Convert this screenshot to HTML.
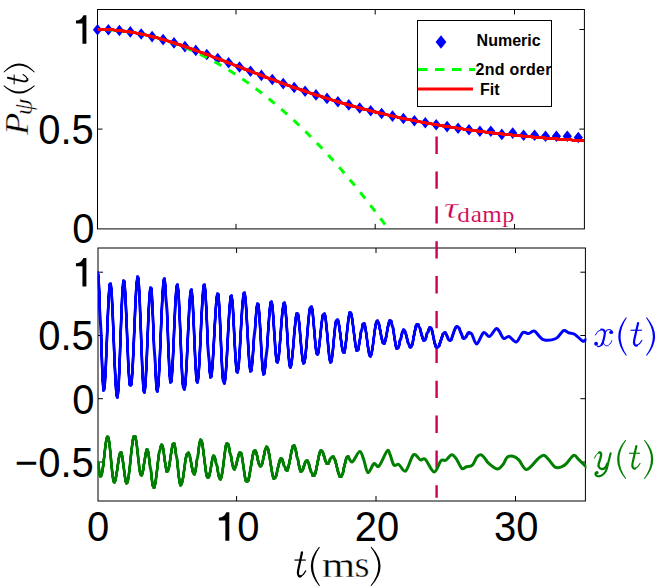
<!DOCTYPE html>
<html><head><meta charset="utf-8"><title>figure</title>
<style>
html,body{margin:0;padding:0;background:#fff;}
svg{display:block;}
.tk{font-family:"Liberation Sans",sans-serif;font-size:40px;fill:#000;}
.lg{font-family:"Liberation Sans",sans-serif;font-size:16px;font-weight:bold;fill:#000;}
.mi{font-family:"Liberation Serif",serif;font-style:italic;}
.mr{font-family:"Liberation Serif",serif;font-style:normal;}
</style></head>
<body>
<svg width="664" height="588" viewBox="0 0 664 588">
<rect width="664" height="588" fill="#fff"/>
<!-- top panel data -->
<defs>
<clipPath id="c1"><rect x="89.5" y="9.5" width="494.9" height="219.4"/></clipPath>
<clipPath id="c2"><rect x="97.5" y="248.0" width="488.9" height="253.0"/></clipPath>
</defs>
<!-- axes boxes -->
<rect x="97.5" y="9.5" width="486.9" height="219.4" fill="none" stroke="#000" stroke-width="1"/>
<rect x="98.0" y="248.0" width="487.4" height="253.0" fill="none" stroke="#000" stroke-width="1"/>
<path d="M236.0 228.9L236.0 223.9M236.0 9.5L236.0 14.5M236.6 501.0L236.6 496.0M236.6 248.0L236.6 253.0M375.2 228.9L375.2 223.9M375.2 9.5L375.2 14.5M376.0 501.0L376.0 496.0M376.0 248.0L376.0 253.0M514.5 228.9L514.5 223.9M514.5 9.5L514.5 14.5M515.5 501.0L515.5 496.0M515.5 248.0L515.5 253.0M97.5 129.1L102.5 129.1M584.4 129.1L579.4 129.1M97.5 29.5L102.5 29.5M584.4 29.5L579.4 29.5M98.0 462.0L103.0 462.0M585.4 462.0L580.4 462.0M98.0 398.7L103.0 398.7M585.4 398.7L580.4 398.7M98.0 335.5L103.0 335.5M585.4 335.5L580.4 335.5M98.0 272.2L103.0 272.2M585.4 272.2L580.4 272.2" stroke="#000" stroke-width="1" fill="none"/>
<g clip-path="url(#c1)">
<path d="M97.5 24.0 l4.6 5.8 l-4.6 5.8 l-4.6 -5.8 zM108.4 23.9 l4.6 5.8 l-4.6 5.8 l-4.6 -5.8 zM119.4 24.7 l4.6 5.8 l-4.6 5.8 l-4.6 -5.8 zM130.3 26.1 l4.6 5.8 l-4.6 5.8 l-4.6 -5.8 zM141.2 28.2 l4.6 5.8 l-4.6 5.8 l-4.6 -5.8 zM152.1 30.8 l4.6 5.8 l-4.6 5.8 l-4.6 -5.8 zM163.1 33.8 l4.6 5.8 l-4.6 5.8 l-4.6 -5.8 zM174.0 37.1 l4.6 5.8 l-4.6 5.8 l-4.6 -5.8 zM184.9 40.8 l4.6 5.8 l-4.6 5.8 l-4.6 -5.8 zM195.8 44.6 l4.6 5.8 l-4.6 5.8 l-4.6 -5.8 zM206.8 48.7 l4.6 5.8 l-4.6 5.8 l-4.6 -5.8 zM217.7 52.8 l4.6 5.8 l-4.6 5.8 l-4.6 -5.8 zM228.6 57.0 l4.6 5.8 l-4.6 5.8 l-4.6 -5.8 zM239.5 61.2 l4.6 5.8 l-4.6 5.8 l-4.6 -5.8 zM250.5 65.4 l4.6 5.8 l-4.6 5.8 l-4.6 -5.8 zM261.4 69.6 l4.6 5.8 l-4.6 5.8 l-4.6 -5.8 zM272.3 73.7 l4.6 5.8 l-4.6 5.8 l-4.6 -5.8 zM283.2 77.8 l4.6 5.8 l-4.6 5.8 l-4.6 -5.8 zM294.2 81.7 l4.6 5.8 l-4.6 5.8 l-4.6 -5.8 zM305.1 85.5 l4.6 5.8 l-4.6 5.8 l-4.6 -5.8 zM316.0 89.1 l4.6 5.8 l-4.6 5.8 l-4.6 -5.8 zM327.0 92.6 l4.6 5.8 l-4.6 5.8 l-4.6 -5.8 zM337.9 96.0 l4.6 5.8 l-4.6 5.8 l-4.6 -5.8 zM348.8 99.1 l4.6 5.8 l-4.6 5.8 l-4.6 -5.8 zM359.7 102.2 l4.6 5.8 l-4.6 5.8 l-4.6 -5.8 zM370.7 105.0 l4.6 5.8 l-4.6 5.8 l-4.6 -5.8 zM381.6 107.7 l4.6 5.8 l-4.6 5.8 l-4.6 -5.8 zM392.5 110.3 l4.6 5.8 l-4.6 5.8 l-4.6 -5.8 zM403.4 112.7 l4.6 5.8 l-4.6 5.8 l-4.6 -5.8 zM414.4 114.9 l4.6 5.8 l-4.6 5.8 l-4.6 -5.8 zM425.3 117.0 l4.6 5.8 l-4.6 5.8 l-4.6 -5.8 zM436.2 118.9 l4.6 5.8 l-4.6 5.8 l-4.6 -5.8 zM447.1 120.8 l4.6 5.8 l-4.6 5.8 l-4.6 -5.8 zM458.1 122.5 l4.6 5.8 l-4.6 5.8 l-4.6 -5.8 zM469.0 124.0 l4.6 5.8 l-4.6 5.8 l-4.6 -5.8 zM479.9 125.5 l4.6 5.8 l-4.6 5.8 l-4.6 -5.8 zM490.8 125.5 l4.6 5.8 l-4.6 5.8 l-4.6 -5.8 zM501.8 128.6 l4.6 5.8 l-4.6 5.8 l-4.6 -5.8 zM512.7 127.3 l4.6 5.8 l-4.6 5.8 l-4.6 -5.8 zM523.6 129.5 l4.6 5.8 l-4.6 5.8 l-4.6 -5.8 zM534.6 129.5 l4.6 5.8 l-4.6 5.8 l-4.6 -5.8 zM545.5 130.4 l4.6 5.8 l-4.6 5.8 l-4.6 -5.8 zM556.4 130.4 l4.6 5.8 l-4.6 5.8 l-4.6 -5.8 zM567.3 130.4 l4.6 5.8 l-4.6 5.8 l-4.6 -5.8 zM578.3 131.7 l4.6 5.8 l-4.6 5.8 l-4.6 -5.8 z" fill="#0000ff"/>
<path d="M97.5 29.5L98.2 29.5L99.0 29.5L99.7 29.5L100.4 29.5L101.1 29.5L101.9 29.5L102.6 29.5L103.3 29.5L104.1 29.6L104.8 29.6L105.5 29.6L106.2 29.6L107.0 29.7L107.7 29.7L108.4 29.7L109.2 29.8L109.9 29.8L110.6 29.9L111.3 29.9L112.1 30.0L112.8 30.0L113.5 30.1L114.3 30.1L115.0 30.2L115.7 30.2L116.4 30.3L117.2 30.4L117.9 30.4L118.6 30.5L119.4 30.6L120.1 30.7L120.8 30.7L121.5 30.8L122.3 30.9L123.0 31.0L123.7 31.1L124.5 31.2L125.2 31.3L125.9 31.4L126.6 31.5L127.4 31.6L128.1 31.7L128.8 31.8L129.6 31.9L130.3 32.0L131.0 32.1L131.7 32.2L132.5 32.3L133.2 32.5L133.9 32.6L134.7 32.7L135.4 32.8L136.1 33.0L136.8 33.1L137.6 33.2L138.3 33.4L139.0 33.5L139.8 33.7L140.5 33.8L141.2 34.0L141.9 34.1L142.7 34.3L143.4 34.4L144.1 34.6L144.9 34.7L145.6 34.9L146.3 35.1L147.0 35.2L147.8 35.4L148.5 35.6L149.2 35.8L150.0 35.9L150.7 36.1L151.4 36.3L152.1 36.5L152.9 36.7L153.6 36.9L154.3 37.1L155.1 37.3L155.8 37.5L156.5 37.7L157.2 37.9L158.0 38.1L158.7 38.3L159.4 38.5L160.2 38.7L160.9 38.9L161.6 39.1L162.3 39.4L163.1 39.6L163.8 39.8L164.5 40.0L165.3 40.3L166.0 40.5L166.7 40.8L167.4 41.0L168.2 41.2L168.9 41.5L169.6 41.7L170.4 42.0L171.1 42.2L171.8 42.5L172.5 42.7L173.3 43.0L174.0 43.3L174.7 43.5L175.5 43.8L176.2 44.1L176.9 44.3L177.6 44.6L178.4 44.9L179.1 45.2L179.8 45.4L180.6 45.7L181.3 46.0L182.0 46.3L182.7 46.6L183.5 46.9L184.2 47.2L184.9 47.5L185.6 47.8L186.4 48.1L187.1 48.4L187.8 48.7L188.6 49.0L189.3 49.3L190.0 49.6L190.7 50.0L191.5 50.3L192.2 50.6L192.9 50.9L193.7 51.3L194.4 51.6L195.1 51.9L195.8 52.3L196.6 52.6L197.3 53.0L198.0 53.3L198.8 53.6L199.5 54.0L200.2 54.3L200.9 54.7L201.7 55.1L202.4 55.4L203.1 55.8L203.9 56.1L204.6 56.5L205.3 56.9L206.0 57.2L206.8 57.6L207.5 58.0L208.2 58.4L209.0 58.8L209.7 59.1L210.4 59.5L211.1 59.9L211.9 60.3L212.6 60.7L213.3 61.1L214.1 61.5L214.8 61.9L215.5 62.3L216.2 62.7L217.0 63.1L217.7 63.5L218.4 64.0L219.2 64.4L219.9 64.8L220.6 65.2L221.3 65.6L222.1 66.1L222.8 66.5L223.5 66.9L224.3 67.4L225.0 67.8L225.7 68.2L226.4 68.7L227.2 69.1L227.9 69.6L228.6 70.0L229.4 70.5L230.1 70.9L230.8 71.4L231.5 71.8L232.3 72.3L233.0 72.8L233.7 73.2L234.5 73.7L235.2 74.2L235.9 74.7L236.6 75.1L237.4 75.6L238.1 76.1L238.8 76.6L239.6 77.1L240.3 77.6L241.0 78.0L241.7 78.5L242.5 79.0L243.2 79.5L243.9 80.0L244.7 80.5L245.4 81.1L246.1 81.6L246.8 82.1L247.6 82.6L248.3 83.1L249.0 83.6L249.8 84.1L250.5 84.7L251.2 85.2L251.9 85.7L252.7 86.3L253.4 86.8L254.1 87.3L254.9 87.9L255.6 88.4L256.3 89.0L257.0 89.5L257.8 90.1L258.5 90.6L259.2 91.2L260.0 91.7L260.7 92.3L261.4 92.8L262.1 93.4L262.9 94.0L263.6 94.5L264.3 95.1L265.1 95.7L265.8 96.3L266.5 96.8L267.2 97.4L268.0 98.0L268.7 98.6L269.4 99.2L270.2 99.8L270.9 100.4L271.6 101.0L272.3 101.6L273.1 102.2L273.8 102.8L274.5 103.4L275.3 104.0L276.0 104.6L276.7 105.2L277.4 105.8L278.2 106.5L278.9 107.1L279.6 107.7L280.4 108.3L281.1 109.0L281.8 109.6L282.5 110.2L283.3 110.9L284.0 111.5L284.7 112.2L285.5 112.8L286.2 113.4L286.9 114.1L287.6 114.8L288.4 115.4L289.1 116.1L289.8 116.7L290.6 117.4L291.3 118.1L292.0 118.7L292.7 119.4L293.5 120.1L294.2 120.7L294.9 121.4L295.7 122.1L296.4 122.8L297.1 123.5L297.8 124.1L298.6 124.8L299.3 125.5L300.0 126.2L300.8 126.9L301.5 127.6L302.2 128.3L302.9 129.0L303.7 129.7L304.4 130.4L305.1 131.2L305.9 131.9L306.6 132.6L307.3 133.3L308.0 134.0L308.8 134.8L309.5 135.5L310.2 136.2L311.0 136.9L311.7 137.7L312.4 138.4L313.1 139.2L313.9 139.9L314.6 140.6L315.3 141.4L316.1 142.1L316.8 142.9L317.5 143.7L318.2 144.4L319.0 145.2L319.7 145.9L320.4 146.7L321.2 147.5L321.9 148.2L322.6 149.0L323.3 149.8L324.1 150.6L324.8 151.3L325.5 152.1L326.3 152.9L327.0 153.7L327.7 154.5L328.4 155.3L329.2 156.1L329.9 156.9L330.6 157.7L331.4 158.5L332.1 159.3L332.8 160.1L333.5 160.9L334.3 161.7L335.0 162.5L335.7 163.3L336.5 164.2L337.2 165.0L337.9 165.8L338.6 166.6L339.4 167.5L340.1 168.3L340.8 169.1L341.6 170.0L342.3 170.8L343.0 171.7L343.7 172.5L344.5 173.4L345.2 174.2L345.9 175.1L346.7 175.9L347.4 176.8L348.1 177.6L348.8 178.5L349.6 179.4L350.3 180.2L351.0 181.1L351.8 182.0L352.5 182.8L353.2 183.7L353.9 184.6L354.7 185.5L355.4 186.4L356.1 187.3L356.9 188.1L357.6 189.0L358.3 189.9L359.0 190.8L359.8 191.7L360.5 192.6L361.2 193.5L361.9 194.4L362.7 195.4L363.4 196.3L364.1 197.2L364.9 198.1L365.6 199.0L366.3 199.9L367.0 200.9L367.8 201.8L368.5 202.7L369.2 203.7L370.0 204.6L370.7 205.5L371.4 206.5L372.1 207.4L372.9 208.4L373.6 209.3L374.3 210.3L375.1 211.2L375.8 212.2L376.5 213.1L377.2 214.1L378.0 215.1L378.7 216.0L379.4 217.0L380.2 218.0L380.9 218.9L381.6 219.9L382.3 220.9L383.1 221.9L383.8 222.8L384.5 223.8L385.3 224.8L386.0 225.8L386.7 226.8L387.4 227.8L388.2 228.8" fill="none" stroke="#00ff00" stroke-width="3" stroke-dasharray="7.9 8.52" stroke-dashoffset="8.54"/>
<path d="M97.5 29.5L98.5 29.5L99.5 29.5L100.5 29.5L101.5 29.5L102.5 29.5L103.5 29.5L104.5 29.5L105.5 29.5L106.5 29.5L107.5 29.5L108.5 29.5L109.5 29.5L110.5 29.5L111.5 29.5L112.5 29.5L113.5 29.5L114.5 30.5L115.5 30.5L116.5 30.5L117.5 30.5L118.5 30.5L119.5 30.5L120.5 30.5L121.5 30.5L122.5 30.5L123.5 30.5L123.5 31.5L124.5 31.5L125.5 31.5L126.5 31.5L127.5 31.5L128.5 31.5L129.5 31.5L130.5 31.5L130.5 32.5L131.5 32.5L132.5 32.5L133.5 32.5L134.5 32.5L135.5 32.5L136.5 33.5L137.5 33.5L138.5 33.5L139.5 33.5L140.5 33.5L141.5 34.5L142.5 34.5L143.5 34.5L144.5 34.5L145.5 34.5L146.5 35.5L147.5 35.5L148.5 35.5L149.5 35.5L150.5 36.5L151.5 36.5L152.5 36.5L153.5 36.5L153.5 37.5L154.5 37.5L155.5 37.5L156.5 37.5L157.5 37.5L158.5 38.5L159.5 38.5L160.5 38.5L161.5 39.5L162.5 39.5L163.5 39.5L164.5 39.5L164.5 40.5L165.5 40.5L166.5 40.5L167.5 40.5L168.5 41.5L169.5 41.5L170.5 41.5L171.5 42.5L172.5 42.5L173.5 42.5L174.5 42.5L174.5 43.5L175.5 43.5L176.5 43.5L177.5 44.5L178.5 44.5L179.5 44.5L180.5 44.5L180.5 45.5L181.5 45.5L182.5 45.5L183.5 45.5L183.5 46.5L184.5 46.5L185.5 46.5L186.5 47.5L187.5 47.5L188.5 47.5L189.5 48.5L190.5 48.5L191.5 48.5L192.5 49.5L193.5 49.5L194.5 49.5L194.5 50.5L195.5 50.5L196.5 50.5L197.5 51.5L198.5 51.5L199.5 51.5L200.5 52.5L201.5 52.5L202.5 52.5L203.5 53.5L204.5 53.5L205.5 53.5L205.5 54.5L206.5 54.5L207.5 54.5L208.5 54.5L208.5 55.5L209.5 55.5L210.5 55.5L211.5 56.5L212.5 56.5L213.5 57.5L214.5 57.5L215.5 57.5L216.5 58.5L217.5 58.5L218.5 58.5L219.5 59.5L220.5 59.5L221.5 59.5L221.5 60.5L222.5 60.5L223.5 60.5L224.5 61.5L225.5 61.5L226.5 61.5L226.5 62.5L227.5 62.5L228.5 62.5L229.5 63.5L230.5 63.5L231.5 63.5L232.5 64.5L233.5 64.5L234.5 65.5L235.5 65.5L236.5 65.5L237.5 66.5L238.5 66.5L239.5 66.5L240.5 67.5L241.5 67.5L242.5 68.5L243.5 68.5L244.5 68.5L244.5 69.5L245.5 69.5L246.5 69.5L247.5 69.5L247.5 70.5L248.5 70.5L249.5 70.5L250.5 71.5L251.5 71.5L252.5 72.5L253.5 72.5L254.5 72.5L255.5 73.5L256.5 73.5L257.5 73.5L258.5 74.5L259.5 74.5L260.5 74.5L260.5 75.5L261.5 75.5L262.5 75.5L263.5 76.5L264.5 76.5L265.5 76.5L265.5 77.5L266.5 77.5L267.5 77.5L268.5 78.5L269.5 78.5L270.5 78.5L271.5 79.5L272.5 79.5L273.5 79.5L274.5 80.5L275.5 80.5L276.5 80.5L276.5 81.5L277.5 81.5L278.5 81.5L279.5 82.5L280.5 82.5L281.5 82.5L281.5 83.5L282.5 83.5L283.5 83.5L284.5 84.5L285.5 84.5L286.5 84.5L287.5 85.5L288.5 85.5L289.5 85.5L290.5 86.5L291.5 86.5L292.5 86.5L292.5 87.5L293.5 87.5L294.5 87.5L295.5 87.5L295.5 88.5L296.5 88.5L297.5 88.5L298.5 88.5L299.5 89.5L300.5 89.5L301.5 89.5L301.5 90.5L302.5 90.5L303.5 90.5L304.5 90.5L304.5 91.5L305.5 91.5L306.5 91.5L307.5 92.5L308.5 92.5L309.5 92.5L310.5 93.5L311.5 93.5L312.5 93.5L313.5 93.5L313.5 94.5L314.5 94.5L315.5 94.5L316.5 95.5L317.5 95.5L318.5 95.5L319.5 95.5L320.5 96.5L321.5 96.5L322.5 96.5L322.5 97.5L323.5 97.5L324.5 97.5L325.5 97.5L326.5 98.5L327.5 98.5L328.5 98.5L329.5 99.5L330.5 99.5L331.5 99.5L332.5 100.5L333.5 100.5L334.5 100.5L335.5 100.5L336.5 101.5L337.5 101.5L338.5 101.5L338.5 102.5L339.5 102.5L340.5 102.5L341.5 102.5L342.5 103.5L343.5 103.5L344.5 103.5L345.5 103.5L345.5 104.5L346.5 104.5L347.5 104.5L348.5 104.5L349.5 105.5L350.5 105.5L351.5 105.5L352.5 105.5L352.5 106.5L353.5 106.5L354.5 106.5L355.5 106.5L356.5 107.5L357.5 107.5L358.5 107.5L359.5 107.5L360.5 108.5L361.5 108.5L362.5 108.5L363.5 108.5L363.5 109.5L364.5 109.5L365.5 109.5L366.5 109.5L367.5 109.5L368.5 110.5L369.5 110.5L370.5 110.5L371.5 111.5L372.5 111.5L373.5 111.5L374.5 111.5L375.5 111.5L375.5 112.5L376.5 112.5L377.5 112.5L378.5 112.5L379.5 112.5L379.5 113.5L380.5 113.5L381.5 113.5L382.5 113.5L383.5 113.5L384.5 114.5L385.5 114.5L386.5 114.5L387.5 114.5L388.5 115.5L389.5 115.5L390.5 115.5L391.5 115.5L392.5 116.5L393.5 116.5L394.5 116.5L395.5 116.5L396.5 116.5L397.5 117.5L398.5 117.5L399.5 117.5L400.5 117.5L401.5 118.5L402.5 118.5L403.5 118.5L404.5 118.5L405.5 118.5L406.5 119.5L407.5 119.5L408.5 119.5L409.5 119.5L410.5 119.5L411.5 120.5L412.5 120.5L413.5 120.5L414.5 120.5L415.5 120.5L416.5 121.5L417.5 121.5L418.5 121.5L419.5 121.5L420.5 121.5L421.5 122.5L422.5 122.5L423.5 122.5L424.5 122.5L425.5 122.5L426.5 123.5L427.5 123.5L428.5 123.5L429.5 123.5L430.5 123.5L431.5 123.5L432.5 124.5L433.5 124.5L434.5 124.5L435.5 124.5L436.5 124.5L437.5 124.5L438.5 125.5L439.5 125.5L440.5 125.5L441.5 125.5L442.5 125.5L443.5 125.5L443.5 126.5L444.5 126.5L445.5 126.5L446.5 126.5L447.5 126.5L448.5 126.5L449.5 126.5L450.5 127.5L451.5 127.5L452.5 127.5L453.5 127.5L454.5 127.5L455.5 127.5L456.5 127.5L457.5 128.5L458.5 128.5L459.5 128.5L460.5 128.5L461.5 128.5L462.5 128.5L463.5 129.5L464.5 129.5L465.5 129.5L466.5 129.5L467.5 129.5L468.5 129.5L469.5 129.5L470.5 130.5L471.5 130.5L472.5 130.5L473.5 130.5L474.5 130.5L475.5 130.5L476.5 130.5L477.5 130.5L477.5 131.5L478.5 131.5L479.5 131.5L480.5 131.5L481.5 131.5L482.5 131.5L483.5 131.5L484.5 131.5L485.5 132.5L486.5 132.5L487.5 132.5L488.5 132.5L489.5 132.5L490.5 132.5L491.5 132.5L492.5 132.5L493.5 132.5L493.5 133.5L494.5 133.5L495.5 133.5L496.5 133.5L497.5 133.5L498.5 133.5L499.5 133.5L500.5 133.5L501.5 133.5L502.5 133.5L502.5 134.5L503.5 134.5L504.5 134.5L505.5 134.5L506.5 134.5L507.5 134.5L508.5 134.5L509.5 134.5L510.5 134.5L511.5 134.5L512.5 135.5L513.5 135.5L514.5 135.5L515.5 135.5L516.5 135.5L517.5 135.5L518.5 135.5L519.5 135.5L520.5 135.5L521.5 135.5L522.5 136.5L523.5 136.5L524.5 136.5L525.5 136.5L526.5 136.5L527.5 136.5L528.5 136.5L529.5 136.5L530.5 136.5L531.5 136.5L532.5 136.5L532.5 137.5L533.5 137.5L534.5 137.5L535.5 137.5L536.5 137.5L537.5 137.5L538.5 137.5L539.5 137.5L540.5 137.5L541.5 137.5L542.5 137.5L543.5 137.5L544.5 137.5L544.5 138.5L545.5 138.5L546.5 138.5L547.5 138.5L548.5 138.5L549.5 138.5L550.5 138.5L551.5 138.5L552.5 138.5L553.5 138.5L554.5 138.5L555.5 138.5L556.5 138.5L557.5 138.5L557.5 139.5L558.5 139.5L559.5 139.5L560.5 139.5L561.5 139.5L562.5 139.5L563.5 139.5L564.5 139.5L565.5 139.5L566.5 139.5L567.5 139.5L568.5 139.5L569.5 139.5L570.5 139.5L571.5 139.5L572.5 140.5L573.5 140.5L574.5 140.5L575.5 140.5L576.5 140.5L577.5 140.5L578.5 140.5L579.5 140.5L580.5 140.5L581.5 140.5L582.5 140.5L583.5 140.5L584.5 140.5" fill="none" stroke="#ff0000" stroke-width="3.1" stroke-linejoin="round"/>
</g>
<!-- tau line -->
<path d="M436.6 136.6V153.9M436.6 171.5V188.8M436.6 206.3V223.6M436.6 241.2V258.5M436.6 276.1V293.4M436.6 310.9V328.2M436.6 345.8V363.1M436.6 380.7V398.0M436.6 415.6V432.9M436.6 450.4V467.7M436.6 485.3V497.7" stroke="#cc0055" stroke-width="2.4" fill="none"/>
<!-- bottom panel data -->
<g clip-path="url(#c2)">
<path d="M97.5 272.5L98.5 275.5L98.5 282.5L99.5 292.5L99.5 307.5L100.5 323.5L101.5 339.5L101.5 355.5L102.5 369.5L102.5 380.5L103.5 387.5L103.5 390.5L104.5 388.5L104.5 384.5L105.5 376.5L105.5 367.5L106.5 355.5L106.5 343.5L107.5 330.5L107.5 317.5L108.5 306.5L108.5 296.5L109.5 289.5L109.5 284.5L110.5 283.5L110.5 284.5L111.5 288.5L111.5 295.5L112.5 304.5L112.5 315.5L113.5 327.5L113.5 340.5L114.5 353.5L114.5 365.5L115.5 375.5L115.5 384.5L116.5 391.5L116.5 395.5L117.5 397.5L117.5 395.5L118.5 390.5L118.5 382.5L119.5 372.5L119.5 359.5L120.5 345.5L120.5 331.5L121.5 318.5L121.5 305.5L122.5 295.5L122.5 287.5L123.5 282.5L123.5 280.5L124.5 281.5L124.5 286.5L125.5 293.5L125.5 303.5L126.5 314.5L126.5 326.5L127.5 339.5L127.5 351.5L128.5 363.5L128.5 372.5L129.5 379.5L129.5 384.5L130.5 385.5L131.5 384.5L131.5 380.5L132.5 373.5L132.5 365.5L133.5 354.5L133.5 343.5L134.5 331.5L134.5 319.5L135.5 307.5L135.5 297.5L136.5 288.5L136.5 282.5L137.5 278.5L137.5 276.5L138.5 278.5L138.5 283.5L139.5 291.5L139.5 301.5L140.5 314.5L140.5 327.5L141.5 341.5L141.5 354.5L142.5 367.5L142.5 377.5L143.5 385.5L143.5 390.5L144.5 392.5L144.5 390.5L145.5 386.5L145.5 378.5L146.5 369.5L146.5 358.5L147.5 345.5L147.5 333.5L148.5 320.5L148.5 309.5L149.5 300.5L149.5 293.5L150.5 288.5L150.5 287.5L151.5 288.5L151.5 293.5L152.5 302.5L152.5 313.5L153.5 325.5L153.5 339.5L154.5 352.5L155.5 365.5L155.5 375.5L156.5 384.5L156.5 389.5L157.5 391.5L157.5 389.5L158.5 385.5L158.5 378.5L159.5 369.5L159.5 359.5L160.5 347.5L160.5 334.5L161.5 322.5L161.5 310.5L162.5 300.5L162.5 291.5L163.5 284.5L163.5 280.5L164.5 278.5L164.5 280.5L165.5 285.5L165.5 294.5L166.5 304.5L167.5 317.5L167.5 330.5L168.5 344.5L168.5 356.5L169.5 367.5L169.5 375.5L170.5 381.5L170.5 382.5L171.5 381.5L171.5 377.5L172.5 370.5L172.5 361.5L173.5 351.5L173.5 339.5L174.5 327.5L174.5 316.5L175.5 305.5L175.5 297.5L176.5 290.5L176.5 286.5L177.5 284.5L177.5 286.5L178.5 290.5L178.5 297.5L179.5 307.5L179.5 318.5L180.5 330.5L180.5 343.5L181.5 355.5L181.5 366.5L182.5 376.5L182.5 383.5L183.5 387.5L184.5 389.5L184.5 388.5L185.5 384.5L185.5 378.5L186.5 370.5L186.5 361.5L187.5 350.5L187.5 339.5L188.5 328.5L188.5 318.5L189.5 308.5L189.5 300.5L190.5 294.5L190.5 291.5L191.5 289.5L191.5 291.5L192.5 296.5L192.5 303.5L193.5 313.5L193.5 324.5L194.5 336.5L194.5 348.5L195.5 359.5L195.5 368.5L196.5 376.5L196.5 380.5L197.5 382.5L197.5 381.5L198.5 377.5L198.5 371.5L199.5 364.5L199.5 354.5L200.5 344.5L200.5 333.5L201.5 322.5L201.5 312.5L202.5 303.5L202.5 295.5L203.5 289.5L203.5 285.5L204.5 284.5L204.5 286.5L205.5 290.5L205.5 298.5L206.5 307.5L206.5 318.5L207.5 330.5L207.5 342.5L208.5 354.5L209.5 363.5L209.5 371.5L210.5 375.5L210.5 377.5L211.5 376.5L211.5 373.5L212.5 368.5L212.5 361.5L213.5 353.5L213.5 344.5L214.5 335.5L214.5 325.5L215.5 317.5L215.5 309.5L216.5 302.5L216.5 297.5L217.5 294.5L217.5 293.5L218.5 294.5L218.5 299.5L219.5 306.5L219.5 315.5L220.5 326.5L220.5 338.5L221.5 349.5L221.5 360.5L222.5 370.5L222.5 377.5L223.5 381.5L224.5 383.5L224.5 382.5L225.5 378.5L225.5 373.5L226.5 366.5L226.5 358.5L227.5 349.5L227.5 339.5L228.5 329.5L228.5 320.5L229.5 312.5L229.5 305.5L230.5 300.5L230.5 296.5L231.5 295.5L231.5 297.5L232.5 300.5L232.5 306.5L233.5 314.5L233.5 324.5L234.5 334.5L234.5 344.5L235.5 353.5L235.5 361.5L236.5 367.5L236.5 371.5L237.5 372.5L237.5 371.5L238.5 368.5L238.5 364.5L239.5 357.5L239.5 350.5L240.5 341.5L240.5 332.5L241.5 323.5L241.5 315.5L242.5 307.5L242.5 301.5L243.5 296.5L243.5 293.5L244.5 292.5L244.5 293.5L245.5 297.5L245.5 302.5L246.5 309.5L246.5 318.5L247.5 327.5L247.5 336.5L248.5 346.5L248.5 354.5L249.5 361.5L249.5 366.5L250.5 370.5L250.5 371.5L251.5 370.5L251.5 367.5L252.5 362.5L252.5 356.5L253.5 349.5L253.5 341.5L254.5 333.5L255.5 325.5L255.5 318.5L256.5 312.5L256.5 307.5L257.5 304.5L257.5 303.5L258.5 304.5L258.5 308.5L259.5 313.5L259.5 321.5L260.5 329.5L260.5 338.5L261.5 348.5L261.5 356.5L262.5 363.5L262.5 369.5L263.5 373.5L263.5 374.5L264.5 373.5L264.5 370.5L265.5 366.5L265.5 360.5L266.5 353.5L267.5 345.5L267.5 337.5L268.5 329.5L268.5 322.5L269.5 315.5L269.5 309.5L270.5 305.5L270.5 302.5L271.5 301.5L271.5 302.5L272.5 305.5L272.5 310.5L273.5 316.5L273.5 324.5L274.5 332.5L274.5 339.5L275.5 347.5L275.5 353.5L276.5 358.5L276.5 361.5L277.5 362.5L277.5 361.5L278.5 359.5L278.5 356.5L279.5 351.5L279.5 345.5L280.5 339.5L280.5 332.5L281.5 325.5L281.5 319.5L282.5 313.5L282.5 309.5L283.5 305.5L283.5 303.5L284.5 302.5L284.5 303.5L285.5 306.5L285.5 312.5L286.5 318.5L286.5 326.5L287.5 334.5L287.5 343.5L288.5 350.5L288.5 357.5L289.5 362.5L289.5 365.5L290.5 367.5L290.5 366.5L291.5 364.5L291.5 361.5L292.5 356.5L292.5 351.5L293.5 346.5L293.5 340.5L294.5 333.5L294.5 328.5L295.5 323.5L295.5 318.5L296.5 315.5L296.5 313.5L297.5 313.5L298.5 315.5L298.5 319.5L299.5 323.5L299.5 329.5L300.5 335.5L300.5 341.5L301.5 347.5L301.5 352.5L302.5 356.5L302.5 360.5L303.5 362.5L303.5 363.5L304.5 362.5L304.5 360.5L305.5 357.5L305.5 352.5L306.5 347.5L306.5 341.5L307.5 334.5L307.5 328.5L308.5 322.5L308.5 317.5L309.5 312.5L309.5 309.5L310.5 307.5L311.5 306.5L311.5 307.5L312.5 309.5L312.5 313.5L313.5 318.5L313.5 324.5L314.5 330.5L314.5 336.5L315.5 342.5L315.5 347.5L316.5 351.5L316.5 353.5L317.5 354.5L318.5 352.5L318.5 349.5L319.5 345.5L319.5 341.5L320.5 336.5L320.5 331.5L321.5 326.5L321.5 322.5L322.5 318.5L322.5 315.5L323.5 314.5L324.5 313.5L324.5 314.5L325.5 316.5L325.5 319.5L326.5 324.5L326.5 329.5L327.5 334.5L327.5 340.5L328.5 346.5L328.5 351.5L329.5 356.5L329.5 359.5L330.5 361.5L330.5 362.5L331.5 361.5L331.5 359.5L332.5 355.5L332.5 351.5L333.5 346.5L333.5 340.5L334.5 335.5L334.5 330.5L335.5 325.5L335.5 322.5L336.5 320.5L337.5 319.5L338.5 321.5L338.5 323.5L339.5 326.5L339.5 330.5L340.5 333.5L340.5 338.5L341.5 341.5L341.5 345.5L342.5 348.5L342.5 350.5L343.5 352.5L344.5 352.5L344.5 350.5L345.5 347.5L345.5 343.5L346.5 339.5L346.5 334.5L347.5 329.5L347.5 325.5L348.5 320.5L348.5 317.5L349.5 314.5L349.5 312.5L350.5 312.5L351.5 314.5L351.5 316.5L352.5 319.5L352.5 323.5L353.5 327.5L353.5 331.5L354.5 335.5L354.5 339.5L355.5 343.5L355.5 346.5L356.5 348.5L356.5 350.5L357.5 350.5L358.5 349.5L358.5 346.5L359.5 343.5L359.5 340.5L360.5 337.5L360.5 333.5L361.5 330.5L362.5 327.5L362.5 324.5L363.5 323.5L364.5 323.5L364.5 324.5L365.5 327.5L365.5 330.5L366.5 333.5L366.5 337.5L367.5 341.5L367.5 345.5L368.5 348.5L368.5 351.5L369.5 354.5L369.5 355.5L370.5 356.5L370.5 355.5L371.5 354.5L371.5 352.5L372.5 349.5L372.5 346.5L373.5 342.5L373.5 338.5L374.5 334.5L374.5 330.5L375.5 327.5L375.5 324.5L376.5 322.5L376.5 321.5L377.5 320.5L377.5 321.5L378.5 322.5L378.5 323.5L379.5 325.5L379.5 328.5L380.5 330.5L380.5 333.5L381.5 336.5L381.5 338.5L382.5 340.5L382.5 342.5L383.5 343.5L384.5 343.5L384.5 342.5L385.5 340.5L385.5 338.5L386.5 336.5L386.5 333.5L387.5 330.5L387.5 327.5L388.5 325.5L388.5 323.5L389.5 321.5L389.5 320.5L390.5 320.5L391.5 321.5L391.5 323.5L392.5 326.5L393.5 329.5L393.5 332.5L394.5 336.5L394.5 339.5L395.5 342.5L395.5 345.5L396.5 347.5L396.5 348.5L397.5 348.5L398.5 347.5L398.5 346.5L399.5 344.5L399.5 341.5L400.5 339.5L401.5 336.5L401.5 334.5L402.5 332.5L402.5 331.5L403.5 330.5L403.5 329.5L404.5 330.5L405.5 332.5L405.5 333.5L406.5 335.5L406.5 337.5L407.5 339.5L407.5 341.5L408.5 343.5L409.5 345.5L409.5 346.5L410.5 346.5L410.5 347.5L411.5 346.5L411.5 345.5L412.5 344.5L412.5 342.5L413.5 339.5L413.5 336.5L414.5 334.5L414.5 331.5L415.5 329.5L415.5 326.5L416.5 325.5L416.5 324.5L417.5 324.5L418.5 324.5L418.5 326.5L419.5 327.5L420.5 329.5L420.5 331.5L421.5 333.5L421.5 335.5L422.5 336.5L422.5 338.5L423.5 339.5L423.5 340.5L424.5 340.5L425.5 339.5L425.5 338.5L426.5 336.5L426.5 334.5L427.5 332.5L428.5 331.5L428.5 329.5L429.5 328.5L429.5 327.5L430.5 327.5L431.5 328.5L431.5 329.5L432.5 331.5L432.5 333.5L433.5 336.5L433.5 338.5L434.5 341.5L434.5 343.5L435.5 344.5L435.5 346.5L436.5 347.5L437.5 347.5L438.5 346.5L439.5 345.5L439.5 343.5L440.5 342.5L440.5 340.5L441.5 339.5L441.5 337.5L442.5 336.5L442.5 334.5L443.5 333.5L444.5 332.5L445.5 332.5L445.5 333.5L446.5 334.5L446.5 335.5L447.5 336.5L447.5 337.5L448.5 339.5L449.5 340.5L450.5 340.5L451.5 339.5L451.5 338.5L452.5 336.5L452.5 335.5L453.5 333.5L453.5 332.5L454.5 330.5L454.5 329.5L455.5 328.5L455.5 327.5L456.5 326.5L457.5 326.5L458.5 327.5L459.5 328.5L459.5 329.5L460.5 331.5L460.5 332.5L461.5 333.5L461.5 334.5L462.5 336.5L462.5 337.5L463.5 337.5L463.5 338.5L464.5 338.5L465.5 337.5L466.5 336.5L466.5 335.5L467.5 334.5L467.5 333.5L468.5 333.5L468.5 332.5L469.5 332.5C469.7 332.9 470.7 332.3 471.9 334.2C473.1 336.1 474.8 344.2 476.7 343.9C478.6 343.6 481.5 333.8 483.6 332.6C485.7 331.4 487.4 337.1 489.5 336.5C491.6 335.9 494.3 329.6 495.9 328.7C497.5 327.8 498.0 329.6 499.3 331.2C500.6 332.8 502.0 337.6 503.6 338.5C505.2 339.4 506.9 335.9 509.0 336.5C511.1 337.1 514.0 342.6 516.3 342.0C518.6 341.4 520.8 334.0 522.8 332.6C524.8 331.2 526.6 333.8 528.6 333.6C530.6 333.4 532.0 330.2 534.5 331.2C537.0 332.2 539.7 338.4 543.3 339.6C546.9 340.8 552.6 340.0 556.0 338.5C559.4 337.0 561.4 331.6 563.5 330.6C565.6 329.7 566.9 332.2 568.8 332.8C570.6 333.4 572.3 332.8 574.6 334.2C576.9 335.6 580.8 340.0 582.5 341.0C584.2 342.0 584.3 340.5 585.0 340.3C585.7 340.1 586.3 339.7 586.6 339.6" fill="none" stroke="#0000ff" stroke-width="3" stroke-linejoin="round" stroke-linecap="round"/>
<path d="M97.5 462.5L98.5 463.5L98.5 467.5L99.5 471.5L99.5 474.5L100.5 476.5L101.5 475.5L101.5 474.5L102.5 471.5L102.5 468.5L103.5 465.5L103.5 460.5L104.5 456.5L104.5 451.5L105.5 447.5L105.5 443.5L106.5 440.5L106.5 438.5L107.5 436.5L108.5 437.5L108.5 439.5L109.5 442.5L109.5 446.5L110.5 451.5L110.5 456.5L111.5 462.5L111.5 467.5L112.5 472.5L112.5 476.5L113.5 479.5L113.5 481.5L114.5 482.5L114.5 481.5L115.5 480.5L115.5 478.5L116.5 475.5L116.5 472.5L117.5 469.5L117.5 465.5L118.5 462.5L118.5 458.5L119.5 456.5L119.5 454.5L120.5 452.5L121.5 452.5L121.5 454.5L122.5 456.5L122.5 460.5L123.5 463.5L123.5 467.5L124.5 471.5L124.5 475.5L125.5 478.5L125.5 481.5L126.5 482.5L126.5 483.5L127.5 482.5L127.5 481.5L128.5 478.5L128.5 475.5L129.5 471.5L129.5 467.5L130.5 462.5L130.5 457.5L131.5 452.5L131.5 448.5L132.5 444.5L132.5 440.5L133.5 438.5L133.5 436.5L134.5 436.5L135.5 436.5L135.5 438.5L136.5 441.5L136.5 444.5L137.5 449.5L137.5 453.5L138.5 458.5L138.5 462.5L139.5 467.5L139.5 470.5L140.5 473.5L140.5 474.5L141.5 475.5L142.5 473.5L142.5 471.5L143.5 469.5L143.5 465.5L144.5 462.5L144.5 459.5L145.5 456.5L145.5 453.5L146.5 451.5L146.5 449.5L147.5 449.5L147.5 450.5L148.5 452.5L148.5 455.5L149.5 459.5L149.5 463.5L150.5 468.5L151.5 473.5L151.5 478.5L152.5 482.5L152.5 485.5L153.5 486.5L153.5 487.5L154.5 487.5L154.5 485.5L155.5 483.5L155.5 480.5L156.5 476.5L156.5 472.5L157.5 468.5L157.5 463.5L158.5 459.5L158.5 455.5L159.5 451.5L160.5 448.5L160.5 446.5L161.5 445.5L161.5 444.5L162.5 445.5L162.5 446.5L163.5 449.5L163.5 452.5L164.5 456.5L164.5 460.5L165.5 463.5L165.5 466.5L166.5 469.5L166.5 471.5L167.5 471.5L168.5 469.5L168.5 468.5L169.5 465.5L169.5 462.5L170.5 459.5L170.5 455.5L171.5 452.5L171.5 449.5L172.5 446.5L172.5 444.5L173.5 443.5L174.5 443.5L174.5 445.5L175.5 448.5L175.5 452.5L176.5 456.5L177.5 461.5L177.5 466.5L178.5 471.5L178.5 476.5L179.5 479.5L179.5 482.5L180.5 484.5L180.5 485.5L181.5 484.5L181.5 483.5L182.5 481.5L182.5 479.5L183.5 476.5L183.5 472.5L184.5 469.5L184.5 465.5L185.5 461.5L185.5 458.5L186.5 456.5L186.5 454.5L187.5 453.5L188.5 452.5L188.5 453.5L189.5 454.5L189.5 455.5L190.5 458.5L190.5 460.5L191.5 463.5L191.5 466.5L192.5 468.5L192.5 471.5L193.5 472.5L193.5 473.5L194.5 474.5L194.5 473.5L195.5 471.5L195.5 469.5L196.5 465.5L196.5 461.5L197.5 457.5L198.5 452.5L198.5 448.5L199.5 444.5L199.5 442.5L200.5 440.5L200.5 439.5L201.5 440.5L201.5 441.5L202.5 443.5L202.5 446.5L203.5 450.5L203.5 454.5L204.5 458.5L204.5 462.5L205.5 466.5L205.5 470.5L206.5 473.5L206.5 475.5L207.5 477.5L208.5 477.5L209.5 475.5L209.5 473.5L210.5 471.5L210.5 468.5L211.5 465.5L211.5 462.5L212.5 459.5L212.5 457.5L213.5 456.5L213.5 455.5L214.5 456.5L214.5 457.5L215.5 459.5L215.5 461.5L216.5 464.5L217.5 467.5L217.5 470.5L218.5 473.5L218.5 475.5L219.5 477.5L219.5 478.5L220.5 479.5L220.5 478.5L221.5 477.5L221.5 475.5L222.5 472.5L222.5 469.5L223.5 465.5L223.5 461.5L224.5 457.5L224.5 453.5L225.5 449.5L225.5 446.5L226.5 444.5L226.5 443.5L227.5 443.5L228.5 444.5L228.5 446.5L229.5 448.5L229.5 451.5L230.5 454.5L231.5 457.5L231.5 460.5L232.5 463.5L232.5 465.5L233.5 467.5L233.5 468.5L234.5 469.5L234.5 468.5L235.5 467.5L235.5 466.5L236.5 464.5L236.5 462.5L237.5 460.5L237.5 458.5L238.5 456.5L238.5 454.5L239.5 453.5L239.5 452.5L240.5 452.5L241.5 453.5L241.5 455.5L242.5 458.5L242.5 461.5L243.5 465.5L243.5 468.5L244.5 472.5L244.5 475.5L245.5 478.5L245.5 480.5L246.5 481.5L247.5 481.5L248.5 480.5L248.5 478.5L249.5 476.5L249.5 473.5L250.5 470.5L250.5 467.5L251.5 464.5L251.5 461.5L252.5 458.5L252.5 455.5L253.5 453.5L253.5 451.5L254.5 450.5L255.5 450.5L255.5 451.5L256.5 452.5L256.5 454.5L257.5 456.5L257.5 459.5L258.5 461.5L258.5 463.5L259.5 464.5L259.5 465.5L260.5 466.5L261.5 465.5L261.5 464.5L262.5 463.5L262.5 461.5L263.5 458.5L263.5 456.5L264.5 454.5L264.5 451.5L265.5 449.5L265.5 448.5L266.5 447.5L266.5 446.5L267.5 447.5L267.5 448.5L268.5 449.5L268.5 452.5L269.5 454.5L269.5 457.5L270.5 461.5L270.5 464.5L271.5 467.5L271.5 470.5L272.5 473.5L272.5 475.5L273.5 477.5L273.5 478.5L274.5 478.5L275.5 477.5L275.5 476.5L276.5 475.5L276.5 473.5L277.5 470.5L277.5 468.5L278.5 466.5L278.5 464.5L279.5 462.5L279.5 460.5L280.5 459.5L280.5 458.5L281.5 458.5L282.5 459.5L282.5 461.5L283.5 462.5L283.5 464.5L284.5 466.5L285.5 467.5L285.5 469.5L286.5 470.5L287.5 470.5L287.5 469.5L288.5 467.5L288.5 465.5L289.5 463.5L289.5 460.5L290.5 458.5L290.5 455.5L291.5 452.5L291.5 450.5L292.5 448.5L292.5 446.5L293.5 445.5L294.5 445.5L294.5 446.5L295.5 448.5L295.5 450.5L296.5 452.5L296.5 455.5L297.5 458.5L298.5 461.5L298.5 464.5L299.5 466.5L299.5 468.5L300.5 470.5L300.5 471.5L301.5 471.5L302.5 470.5L302.5 469.5L303.5 468.5L303.5 466.5L304.5 465.5L304.5 463.5L305.5 462.5L305.5 461.5L306.5 460.5L307.5 460.5L307.5 461.5L308.5 462.5L308.5 463.5L309.5 465.5L309.5 467.5L310.5 469.5L310.5 470.5L311.5 472.5L312.5 473.5L312.5 475.5L313.5 475.5L314.5 475.5L314.5 474.5L315.5 473.5L315.5 471.5L316.5 469.5L316.5 466.5L317.5 464.5L317.5 461.5L318.5 459.5L318.5 456.5L319.5 454.5L319.5 452.5L320.5 451.5L320.5 450.5L321.5 450.5L322.5 451.5L322.5 452.5L323.5 453.5L323.5 455.5L324.5 456.5L324.5 458.5L325.5 460.5L325.5 461.5L326.5 462.5L326.5 463.5L327.5 463.5L328.5 463.5L328.5 462.5L329.5 461.5L329.5 460.5L330.5 458.5L331.5 457.5L332.5 456.5L333.5 456.5L333.5 457.5L334.5 458.5L334.5 459.5L335.5 460.5L335.5 462.5L336.5 464.5L336.5 466.5L337.5 468.5L337.5 470.5L338.5 472.5L338.5 473.5L339.5 475.5L339.5 476.5L340.5 476.5L341.5 476.5L341.5 475.5L342.5 474.5L342.5 473.5L343.5 471.5L343.5 468.5L344.5 466.5L344.5 464.5L345.5 462.5L345.5 460.5L346.5 458.5L346.5 457.5L347.5 456.5L348.5 456.5C348.7 457.4 350.4 462.7 352.4 461.8C354.3 460.9 357.8 451.8 359.7 451.4C361.6 451.0 362.2 455.8 363.6 459.3C365.0 462.8 366.2 471.9 367.9 472.6C369.6 473.3 372.2 464.7 374.0 463.6C375.8 462.5 376.7 468.2 378.9 466.1C381.1 464.0 385.2 452.9 387.1 451.0C389.0 449.1 388.9 452.0 390.0 454.4C391.1 456.8 392.4 463.4 393.9 465.1C395.4 466.8 396.8 463.5 398.8 464.5C400.8 465.5 403.2 472.6 405.7 471.0C408.1 469.4 411.1 456.7 413.5 454.8C415.9 452.9 418.4 459.1 420.4 459.8C422.4 460.6 423.0 457.3 425.3 459.3C427.6 461.3 431.5 471.8 434.1 472.0C436.7 472.2 438.9 462.8 440.9 460.8C442.8 458.8 444.0 461.2 445.8 460.2C447.6 459.2 449.9 454.9 451.7 454.8C453.5 454.7 454.9 457.0 456.6 459.3C458.3 461.6 460.3 467.2 461.9 468.5C463.5 469.8 464.2 467.6 466.0 467.0C467.8 466.4 470.6 466.7 472.4 465.1C474.2 463.5 475.3 459.0 476.7 457.3C478.1 455.6 479.4 454.7 480.7 454.8C482.0 454.9 483.3 456.5 484.6 457.9C485.9 459.3 486.4 461.3 488.5 463.2C490.6 465.1 494.9 468.8 497.3 469.0C499.8 469.2 501.6 466.1 503.2 464.2C504.8 462.2 505.5 458.6 507.1 457.3C508.7 456.0 511.1 455.9 513.0 456.3C515.0 456.7 516.5 457.6 518.8 459.8C521.1 462.0 523.4 469.9 526.7 469.6C530.0 469.4 535.5 460.7 538.4 458.3C541.3 455.9 542.1 455.0 543.9 455.3C545.7 455.6 547.3 458.2 549.2 460.2C551.1 462.2 553.2 466.0 555.1 467.1C557.0 468.2 559.1 467.6 560.9 467.1C562.7 466.6 563.7 466.2 565.8 464.2C567.9 462.2 571.6 456.1 573.7 455.3C575.8 454.5 576.6 457.6 578.5 459.3C580.4 461.0 583.6 464.4 585.0 465.7C586.4 467.0 586.3 466.9 586.6 467.2" fill="none" stroke="#007f00" stroke-width="3" stroke-linejoin="round" stroke-linecap="round"/>
</g>
<!-- legend -->
<rect x="417.5" y="20.5" width="134" height="86" fill="#fff" stroke="#000" stroke-width="1"/>
<path d="M441 35.2l5.4 6.8l-5.4 6.8l-5.4 -6.8z" fill="#0000ff"/>
<path d="M418 69.4H475" stroke="#00ff00" stroke-width="3" stroke-dasharray="9.5 7.5" fill="none"/>
<path d="M418 89H473" stroke="#ff0000" stroke-width="3.2" fill="none"/>
<text x="476.6" y="45.7" class="lg">Numeric</text>
<text x="475.5" y="74.8" class="lg" letter-spacing="0.27">2nd order</text>
<text x="480" y="95.4" class="lg">Fit</text>
<!-- tick labels -->
<path d="M86.40 15.15V43.65H82.45V23.45H75.95V20.55Q81.20 20.25 83.50 15.15Z" fill="#000"/>
<text transform="translate(93.80 143.72) scale(1 1.045)" text-anchor="end" class="tk">0.5</text>
<text transform="translate(94.40 243.40) scale(1 1.045)" text-anchor="end" class="tk">0</text>
<path d="M86.40 257.90V286.40H82.45V266.20H75.95V263.30Q81.20 263.00 83.50 257.90Z" fill="#000"/>
<text transform="translate(93.80 350.25) scale(1 1.045)" text-anchor="end" class="tk">0.5</text>
<text transform="translate(94.40 413.70) scale(1 1.045)" text-anchor="end" class="tk">0</text>
<text transform="translate(93.80 476.95) scale(1 1.045)" text-anchor="end" class="tk">−0.5</text>
<text transform="translate(98.00 541.10) scale(1 1.045)" text-anchor="middle" class="tk">0</text>
<path d="M229.30 512.30V540.80H225.35V520.60H218.85V517.70Q224.10 517.40 226.40 512.30Z" fill="#000"/><text transform="translate(237.35 541.10) scale(1 1.045)" text-anchor="start" class="tk">0</text>
<text transform="translate(376.90 541.10) scale(1 1.045)" text-anchor="middle" class="tk">20</text>
<text transform="translate(516.35 541.10) scale(1 1.045)" text-anchor="middle" class="tk">30</text>
<!-- math labels -->
<path d="M595.33 335.07 Q596.78 330.78 601.30 329.51 " fill="none" stroke="#0000ff" stroke-width="0.95" stroke-linecap="round" stroke-linejoin="round"/><path d="M601.30 329.51 C605.14 329.06 605.14 333.04 604.37 336.43 C603.65 339.82 603.19 342.75 601.52 344.88 " fill="none" stroke="#0000ff" stroke-width="2.10" stroke-linecap="round" stroke-linejoin="round"/><path d="M601.52 344.88 C600.17 346.59 598.36 346.82 597.23 346.05 " fill="none" stroke="#0000ff" stroke-width="1.14" stroke-linecap="round" stroke-linejoin="round"/><circle cx="596.10" cy="343.75" r="1.90" fill="#0000ff"/><circle cx="611.24" cy="332.13" r="1.90" fill="#0000ff"/><path d="M611.24 330.42 C609.88 328.97 607.62 329.20 606.27 330.78 C605.59 331.59 605.27 332.36 605.00 333.26 " fill="none" stroke="#0000ff" stroke-width="1.14" stroke-linecap="round" stroke-linejoin="round"/><path d="M603.42 342.08 C603.47 345.69 606.27 346.59 608.53 345.24 C610.33 343.97 611.42 342.08 611.78 340.63 " fill="none" stroke="#0000ff" stroke-width="0.95" stroke-linecap="round" stroke-linejoin="round"/>
<path d="M626.00 317.20Q610.60 336.50 626.00 355.80L626.80 355.30Q614.40 336.50 626.80 317.70Z" fill="#0000ff"/>
<g transform="translate(630.40 322.00) scale(1.0000 1.0000) translate(-630.40 -322.00)"><path d="M638.09 323.01 L634.28 339.79 C633.30 344.03 634.99 346.32 636.89 345.51 " fill="none" stroke="#0000ff" stroke-width="2.20" stroke-linecap="round" stroke-linejoin="round"/><path d="M636.89 345.51 C639.07 344.69 640.71 342.51 641.80 340.44 " fill="none" stroke="#0000ff" stroke-width="1.15" stroke-linecap="round" stroke-linejoin="round"/><path d="M630.58 330.25 L641.90 330.25 " fill="none" stroke="#0000ff" stroke-width="1.15" stroke-linecap="butt" stroke-linejoin="round"/></g>
<path d="M646.80 317.20Q663.40 336.50 646.80 355.80L646.00 355.30Q659.60 336.50 646.00 317.70Z" fill="#0000ff"/>
<path d="M594.45 458.14 Q595.78 453.51 599.25 452.47 " fill="none" stroke="#007f00" stroke-width="1.00" stroke-linecap="round" stroke-linejoin="round"/><path d="M599.25 452.47 C603.01 452.07 600.29 459.01 598.79 463.34 C597.80 466.23 599.25 469.01 602.43 469.01 C604.91 468.89 606.65 465.94 607.34 463.63 " fill="none" stroke="#007f00" stroke-width="2.35" stroke-linecap="round" stroke-linejoin="round"/><path d="M610.58 453.40 L608.61 461.14 L606.88 468.54 C605.72 473.17 601.56 476.64 598.09 476.29 C595.78 475.94 595.09 474.44 595.55 473.05 " fill="none" stroke="#007f00" stroke-width="2.12" stroke-linecap="round" stroke-linejoin="round"/><circle cx="596.82" cy="472.71" r="1.79" fill="#007f00"/>
<path d="M625.40 439.80Q608.80 459.40 625.40 479.00L626.20 478.50Q612.60 459.40 626.20 440.30Z" fill="#007f00"/>
<g transform="translate(628.80 445.00) scale(0.9833 1.0000) translate(-630.40 -322.00)"><path d="M638.09 323.01 L634.28 339.79 C633.30 344.03 634.99 346.32 636.89 345.51 " fill="none" stroke="#007f00" stroke-width="2.20" stroke-linecap="round" stroke-linejoin="round"/><path d="M636.89 345.51 C639.07 344.69 640.71 342.51 641.80 340.44 " fill="none" stroke="#007f00" stroke-width="1.15" stroke-linecap="round" stroke-linejoin="round"/><path d="M630.58 330.25 L641.90 330.25 " fill="none" stroke="#007f00" stroke-width="1.15" stroke-linecap="butt" stroke-linejoin="round"/></g>
<path d="M644.70 439.80Q661.90 459.40 644.70 479.00L643.90 478.50Q658.10 459.40 643.90 440.30Z" fill="#007f00"/>
<g transform="translate(294.30 551.30) scale(1.0000 1.0622) translate(-630.40 -322.00)"><path d="M638.09 323.01 L634.28 339.79 C633.30 344.03 634.99 346.32 636.89 345.51 " fill="none" stroke="#000" stroke-width="2.20" stroke-linecap="round" stroke-linejoin="round"/><path d="M636.89 345.51 C639.07 344.69 640.71 342.51 641.80 340.44 " fill="none" stroke="#000" stroke-width="1.15" stroke-linecap="round" stroke-linejoin="round"/><path d="M630.58 330.25 L641.90 330.25 " fill="none" stroke="#000" stroke-width="1.15" stroke-linecap="butt" stroke-linejoin="round"/></g>
<path d="M319.10 546.80Q302.50 566.35 319.10 585.90L319.90 585.40Q306.30 566.35 319.90 547.30Z"/>
<text class="mr" font-size="100" transform="translate(321.70 576.60) scale(0.4304 0.3672)" stroke="#fff" stroke-width="1.13">m</text>
<text class="mr" font-size="100" transform="translate(354.41 576.83) scale(0.3878 0.3826)" stroke="#fff" stroke-width="1.17">s</text>
<path d="M371.40 546.80Q389.80 566.35 371.40 585.90L370.60 585.40Q386.00 566.35 370.60 547.30Z"/>
<text class="mi" font-size="100" transform="translate(443.72 218.01) scale(0.4014 0.3008)" fill="#cc0055" stroke="#fff" stroke-width="1.42">τ</text>
<text class="mr" font-size="100" transform="translate(457.19 222.29) scale(0.2524 0.2189)" fill="#cc0055" stroke="#fff" stroke-width="0.64">d</text>
<text class="mr" font-size="100" transform="translate(470.71 222.28) scale(0.2532 0.2213)" fill="#cc0055" stroke="#fff" stroke-width="0.63">a</text>
<text class="mr" font-size="100" transform="translate(482.27 222.30) scale(0.2509 0.2207)" fill="#cc0055" stroke="#fff" stroke-width="0.64">m</text>
<text class="mr" font-size="100" transform="translate(502.31 221.68) scale(0.2428 0.2076)" fill="#cc0055" stroke="#fff" stroke-width="0.67">p</text>
<g transform="rotate(-90)"><text class="mi" font-size="100" transform="translate(-135.10 27.90) scale(0.3656 0.3406)" stroke="#fff" stroke-width="1.27">P</text><text class="mi" font-size="100" transform="translate(-115.28 31.62) scale(0.2658 0.2480)" stroke="#fff" stroke-width="1.17">ψ</text><path d="M-85.90 3.50Q-101.10 19.15 -85.90 34.80L-85.20 34.30Q-97.80 19.15 -85.20 4.00Z"/><g transform="translate(-84.50 7.00) scale(0.8750 0.8672) translate(-630.40 -322.00)"><path d="M638.09 323.01 L634.28 339.79 C633.30 344.03 634.99 346.32 636.89 345.51 " fill="none" stroke="#000" stroke-width="2.20" stroke-linecap="round" stroke-linejoin="round"/><path d="M636.89 345.51 C639.07 344.69 640.71 342.51 641.80 340.44 " fill="none" stroke="#000" stroke-width="1.15" stroke-linecap="round" stroke-linejoin="round"/><path d="M630.58 330.25 L641.90 330.25 " fill="none" stroke="#000" stroke-width="1.15" stroke-linecap="butt" stroke-linejoin="round"/></g><path d="M-71.90 3.50Q-55.30 19.15 -71.90 34.80L-72.60 34.30Q-58.60 19.15 -72.60 4.00Z"/></g>
</svg>
</body></html>
